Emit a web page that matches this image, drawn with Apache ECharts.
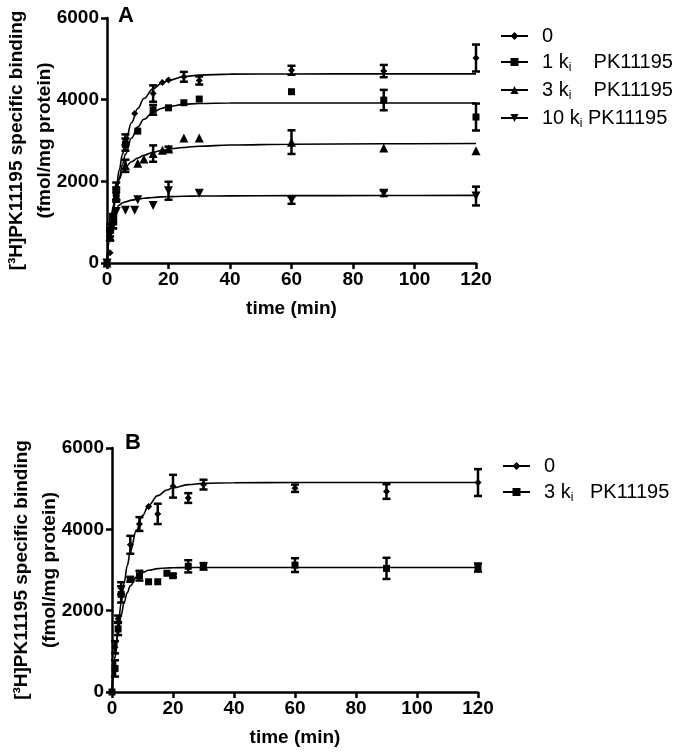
<!DOCTYPE html>
<html>
<head>
<meta charset="utf-8">
<script src="https://cdn.jsdelivr.net/npm/echarts@6/dist/echarts.min.js"></script>
<style>
html,body{margin:0;padding:0;background:#fff;}
#chart{width:675px;height:752px;}
</style>
</head>
<body>
<div id="chart"></div>
<script>
// ---------- data ----------
const xTicks = [0, 20, 40, 60, 80, 100, 120];
const yTicks = [0, 2000, 4000, 6000];

const seriesNamesA = ['0', '1 ki PK11195', '3 ki PK11195', '10 ki PK11195'];
const seriesNamesB = ['B:0', 'B:3 ki PK11195'];

// Panel A measured points (time min, binding fmol/mg, SEM)
const timeA0 = [0, 1, 2, 3, 6, 9, 15, 18, 20, 25, 30, 60, 90, 120];
const valA0  = [0, 250, 950, 1850, 3020, 3660, 4150, 4420, 4480, 4560, 4470, 4720, 4700, 5020];
const errA0  = [0, 0, 100, 120, 130, 0, 200, 0, 0, 120, 100, 110, 150, 330];

const timeA1 = [0, 1, 2, 3, 6, 10, 15, 20, 25, 30, 60, 90, 120];
const valA1  = [0, 800, 1050, 1700, 2900, 3230, 3750, 3800, 3925, 4015, 4195, 3990, 3575];
const errA1  = [0, 150, 100, 150, 150, 0, 120, 0, 0, 0, 0, 250, 330];

const timeA3 = [0, 1, 2, 3, 6, 10, 12, 15, 18, 20, 25, 30, 60, 90, 120];
const valA3  = [0, 650, 1100, 1650, 2380, 2440, 2550, 2680, 2760, 2790, 3060, 3060, 2960, 2815, 2750];
const errA3  = [0, 100, 100, 150, 150, 0, 0, 200, 0, 60, 0, 0, 290, 0, 0];

const timeA10 = [0, 1, 2, 3, 6, 9, 10, 15, 20, 30, 60, 90, 120];
const valA10  = [0, 700, 1000, 1260, 1290, 1290, 1550, 1410, 1770, 1710, 1540, 1710, 1640];
const errA10  = [0, 150, 150, 0, 0, 0, 0, 0, 220, 0, 90, 70, 230];

// fitted curves
const curveT   = [0, 1, 2, 3, 4, 5, 6, 8, 10, 12, 15, 18, 20, 25, 30, 40, 60, 90, 120];
const curveA0  = [0, 724, 1334, 1853, 2283, 2654, 2960, 3439, 3784, 4028, 4268, 4413, 4475, 4564, 4602, 4625, 4630, 4632, 4632];
const curveA1  = [0, 678, 1239, 1701, 2085, 2403, 2666, 3062, 3334, 3520, 3693, 3791, 3833, 3885, 3907, 3918, 3920, 3920, 3920];
const curveA3  = [0, 800, 1400, 1800, 2050, 2230, 2350, 2480, 2570, 2640, 2710, 2760, 2790, 2830, 2860, 2890, 2910, 2920, 2925];
const curveA10 = [0, 700, 1100, 1330, 1420, 1470, 1500, 1540, 1565, 1585, 1605, 1620, 1625, 1635, 1640, 1645, 1650, 1652, 1655];

// Panel B measured points
const timeB0 = [0, 1, 2, 3, 6, 9, 12, 15, 20, 25, 30, 60, 90, 120];
const valB0  = [0, 1100, 1800, 2550, 3620, 4130, 4560, 4380, 5060, 4770, 5100, 5010, 4930, 5150];
const errB0  = [0, 150, 80, 150, 220, 170, 0, 250, 280, 120, 120, 90, 180, 330];

const timeB3 = [0, 1, 2, 3, 6, 9, 12, 15, 18, 20, 25, 30, 60, 90, 120];
const valB3  = [0, 580, 1550, 2400, 2770, 2860, 2710, 2710, 2920, 2860, 3090, 3090, 3120, 3040, 3060];
const errB3  = [0, 200, 150, 200, 60, 120, 0, 0, 0, 40, 150, 80, 170, 260, 100];

const curveB0 = [0, 870, 1591, 2194, 2694, 3105, 3453, 3976, 4341, 4590, 4829, 4966, 5021, 5100, 5130, 5146, 5150, 5150, 5150];
const curveB3 = [0, 838, 1448, 1888, 2209, 2442, 2610, 2824, 2935, 2994, 3035, 3050, 3055, 3060, 3060, 3060, 3060, 3060, 3060];

// ---------- build ----------
const FONT = '"Liberation Sans", Arial, sans-serif';
const symA = [
  {symbol: 'diamond', size: 7, rotate: 0},
  {symbol: 'rect', size: 7, rotate: 0},
  {symbol: 'triangle', size: 9, rotate: 0},
  {symbol: 'triangle', size: 9, rotate: 180}
];
const symB = [
  {symbol: 'diamond', size: 7, rotate: 0},
  {symbol: 'rect', size: 7, rotate: 0}
];

function pairs(t, v) { return t.map((x, i) => [x, v[i]]); }

function curveSeries(name, t, v, s, gi) {
  return {
    type: 'line', name: name, xAxisIndex: gi, yAxisIndex: gi,
    data: pairs(t, v), smooth: 0.4, smoothMonotone: 'x',
    symbol: s.symbol, symbolSize: s.size, symbolRotate: s.rotate, showSymbol: false,
    lineStyle: {color: '#000', width: 1.6}, itemStyle: {color: '#000', opacity: 1},
    silent: true, z: 2
  };
}
function pointSeries(t, v, s, gi) {
  return {
    type: 'scatter', name: 'pts', xAxisIndex: gi, yAxisIndex: gi,
    data: pairs(t, v), symbol: s.symbol, symbolSize: s.size, symbolRotate: s.rotate,
    itemStyle: {color: '#000', opacity: 1}, silent: true, z: 4
  };
}
function errSeries(t, v, e, gi) {
  const d = t.map((x, i) => [x, v[i] - e[i], v[i] + e[i]]).filter(r => r[2] > r[1]);
  return {
    type: 'custom', xAxisIndex: gi, yAxisIndex: gi, data: d, silent: true, z: 3,
    encode: {x: 0, y: [1, 2]},
    renderItem: function (params, api) {
      const lo = api.coord([api.value(0), api.value(1)]);
      const hi = api.coord([api.value(0), api.value(2)]);
      const w = 4;
      const st = {stroke: '#000', lineWidth: 2.5};
      return {type: 'group', children: [
        {type: 'line', shape: {x1: lo[0], y1: lo[1], x2: hi[0], y2: hi[1]}, style: st},
        {type: 'line', shape: {x1: lo[0] - w, y1: lo[1], x2: lo[0] + w, y2: lo[1]}, style: st},
        {type: 'line', shape: {x1: hi[0] - w, y1: hi[1], x2: hi[0] + w, y2: hi[1]}, style: st}
      ]};
    }
  };
}

function xAxis(gi) {
  return {
    type: 'value', gridIndex: gi, min: 0, max: 120, interval: 20,
    name: 'time (min)', nameLocation: 'middle', nameGap: 36,
    nameTextStyle: {fontFamily: FONT, fontSize: 19, fontWeight: 'bold', color: '#000'},
    axisLine: {lineStyle: {color: '#000', width: 2.5}},
    axisTick: {show: true, length: 6, lineStyle: {color: '#000', width: 2.5}},
    axisLabel: {fontFamily: FONT, fontSize: 19, fontWeight: 'bold', color: '#000', margin: 7,
      formatter: v => xTicks.includes(v) ? String(v) : ''},
    splitLine: {show: false}
  };
}
function yAxis(gi) {
  return {
    type: 'value', gridIndex: gi, min: 0, max: 6000, interval: 2000,
    name: '[³H]PK11195 specific binding\n(fmol/mg protein)', nameLocation: 'middle', nameGap: 48,
    nameMoveOverlap: false,
    nameTextStyle: {fontFamily: FONT, fontSize: 19, fontWeight: 'bold', color: '#000', lineHeight: 28},
    axisLine: {show: true, lineStyle: {color: '#000', width: 2.5}},
    axisTick: {show: true, length: 6, lineStyle: {color: '#000', width: 2.5}},
    axisLabel: {fontFamily: FONT, fontSize: 19, fontWeight: 'bold', color: '#000', margin: 8,
      formatter: v => yTicks.includes(v) ? String(v) : ''},
    splitLine: {show: false}
  };
}

function legendFmt(name) {
  const isB = name.startsWith('B:');
  const base = name.replace(/^B:/, '');
  const m = base.match(/^(\d+) ki PK11195$/);
  if (!m) return base;
  const gap = m[1] === '10' ? ' ' : (isB ? '   ' : '    ');
  return m[1] + ' k{sub|i}' + gap + 'PK11195';
}
function legend(names, top, left) {
  return {
    data: names, orient: 'vertical', left: left, top: top,
    itemWidth: 27, itemHeight: 10, itemGap: 6,
    formatter: legendFmt,
    textStyle: {fontFamily: FONT, fontSize: 20, color: '#000', lineHeight: 20, padding: [0, 0, 0, 9],
      rich: {sub: {fontFamily: FONT, fontSize: 12, color: '#000', padding: [12, 0, 0, 0]}}},
    selectedMode: false
  };
}

const curvesA = [curveA0, curveA1, curveA3, curveA10];
const timesA = [timeA0, timeA1, timeA3, timeA10];
const valsA = [valA0, valA1, valA3, valA10];
const errsA = [errA0, errA1, errA3, errA10];
const curvesB = [curveB0, curveB3];
const timesB = [timeB0, timeB3];
const valsB = [valB0, valB3];
const errsB = [errB0, errB3];

const series = [];
seriesNamesA.forEach((n, i) => {
  series.push(curveSeries(n, curveT, curvesA[i], symA[i], 0));
  series.push(errSeries(timesA[i], valsA[i], errsA[i], 0));
  series.push(pointSeries(timesA[i], valsA[i], symA[i], 0));
});
seriesNamesB.forEach((n, i) => {
  series.push(curveSeries(n, curveT, curvesB[i], symB[i], 1));
  series.push(errSeries(timesB[i], valsB[i], errsB[i], 1));
  series.push(pointSeries(timesB[i], valsB[i], symB[i], 1));
});

const chart = echarts.init(document.getElementById('chart'), null, {renderer: 'canvas'});
chart.setOption({
  animation: false,
  backgroundColor: '#fff',
  grid: [
    {left: 107, right: 199, top: 18, bottom: 489, containLabel: false, outerBoundsMode: 'none'},
    {left: 112, right: 197, top: 448, bottom: 60, containLabel: false, outerBoundsMode: 'none'}
  ],
  xAxis: [xAxis(0), xAxis(1)],
  yAxis: [yAxis(0), yAxis(1)],
  legend: [legend(seriesNamesA, 21, 495), legend(seriesNamesB, 451, 497)],
  title: [
    {text: 'A', left: 113, top: 0, textStyle: {fontFamily: FONT, fontSize: 22, fontWeight: 'bold', color: '#000'}},
    {text: 'B', left: 120, top: 427, textStyle: {fontFamily: FONT, fontSize: 22, fontWeight: 'bold', color: '#000'}}
  ],
  series: series
});
</script>
</body>
</html>
